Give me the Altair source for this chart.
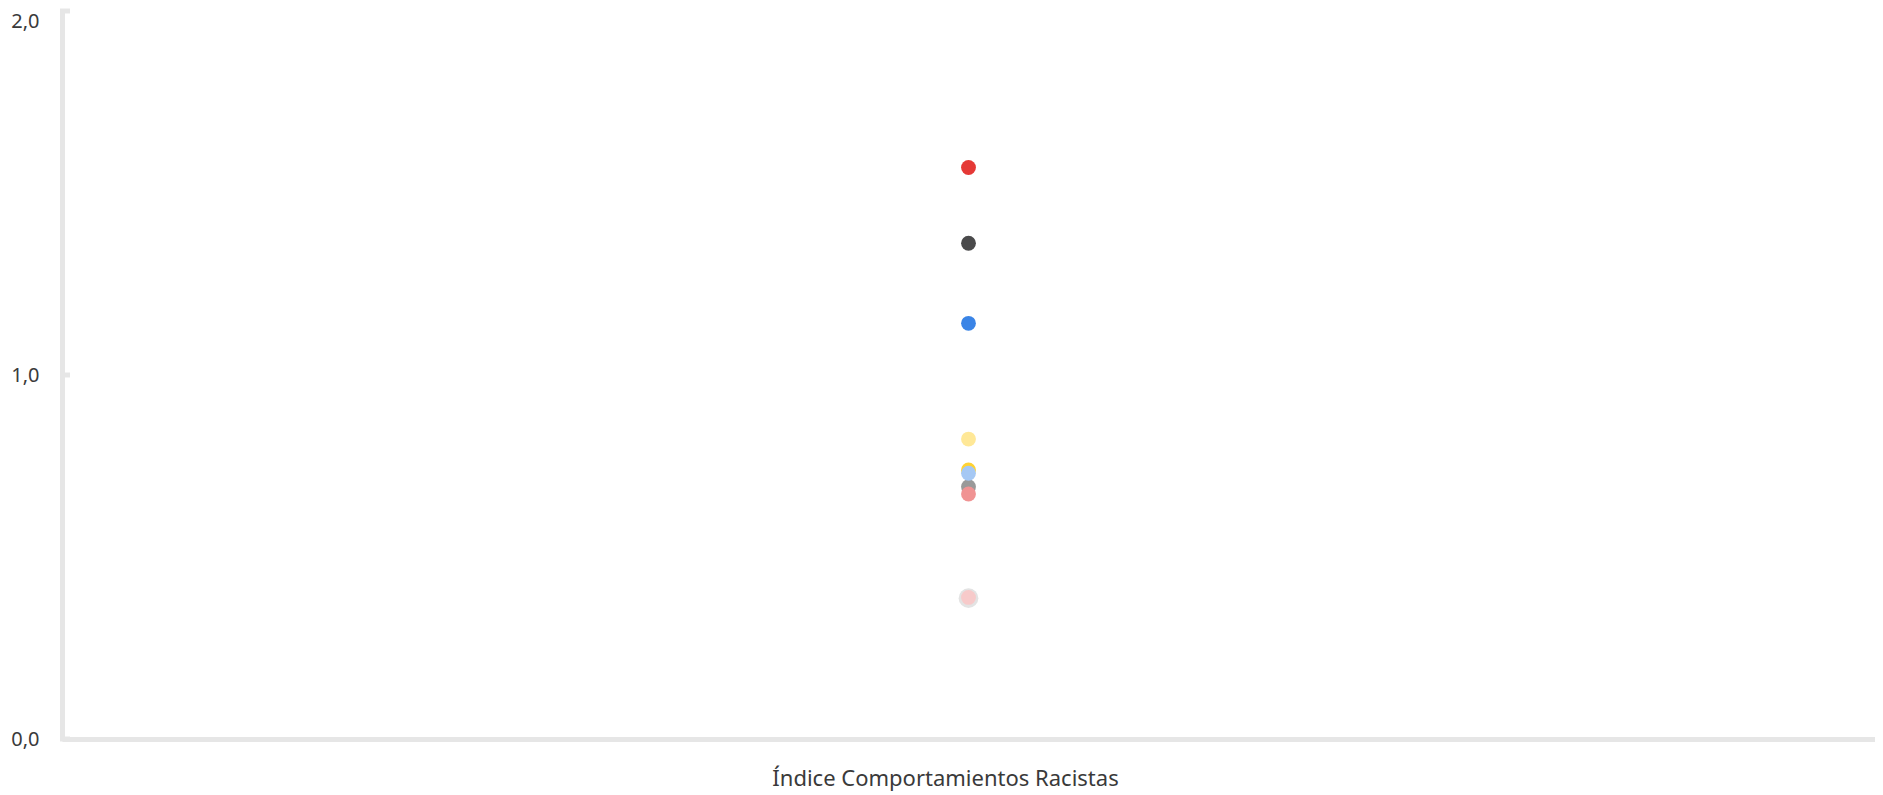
import altair as alt
import pandas as pd

# Series (drawn in this order; later ones on top)
groups = ["g1", "g2", "g3", "g4", "g5", "g6", "g7", "g8", "g9", "g10"]
values = [0.387, 0.389, 0.693, 0.739, 0.730, 0.673, 0.824, 1.142, 1.362, 1.570]
colors = ["#e3e3e3", "#f7caca", "#999999", "#ffd232", "#a5c8f4", "#f09393",
          "#ffe897", "#3a84e6", "#4a4a4b", "#e53936"]
sizes = [390, 220, 220, 220, 220, 220, 220, 220, 220, 220]
category = "Índice Comportamientos Racistas"
tick_values = [0.0, 1.0, 2.0]

df = pd.DataFrame({
    "grupo": groups,
    "valor": values,
    "color": colors,
    "size": sizes,
    "indice": [category] * len(groups),
    "orden": list(range(len(groups))),
})
ticks_df = pd.DataFrame({"t": tick_values})

FONT = "Noto Sans"
AXIS_COLOR = "#e6e6e6"
TEXT_COLOR = "#3a3a3a"

label_expr = "replace(format(datum.value, '.1f'), '.', ',')"

yscale = alt.Scale(domain=[0, 2], nice=False, zero=True)

points = alt.Chart(df).mark_circle(opacity=1).encode(
    x=alt.X("indice:N", scale=alt.Scale(type="point", padding=0.5),
            axis=alt.Axis(title=category, labels=False, ticks=False,
                          domain=True, domainColor=AXIS_COLOR, domainWidth=5,
                          titleFont=FONT, titleFontSize=22, titleFontWeight="normal",
                          titleColor=TEXT_COLOR, titleX=883, titleY=46,
                          titleBaseline="alphabetic", titleAlign="center")),
    y=alt.Y("valor:Q", scale=yscale,
            axis=alt.Axis(title=None, values=tick_values, labelExpr=label_expr,
                          grid=False, ticks=False, domain=True,
                          domainColor=AXIS_COLOR, domainWidth=5,
                          labelFont=FONT, labelFontSize=20, labelColor=TEXT_COLOR,
                          labelPadding=23, labelBaseline="middle",
                          labelOffset=alt.condition("datum.value == 2",
                                                    alt.value(10), alt.value(0)))),
    color=alt.Color("color:N", scale=None, legend=None),
    size=alt.Size("size:Q", scale=None, legend=None),
    order=alt.Order("orden:Q"),
)

tick_marks = alt.Chart(ticks_df).mark_rule(color=AXIS_COLOR, strokeWidth=5).encode(
    y=alt.Y("t:Q", scale=yscale),
    x=alt.value(-2),
    x2=alt.value(8),
)

chart = alt.layer(tick_marks, points).properties(
    width=1813,
    height=728,
    padding={"left": 54, "top": 3, "right": 0, "bottom": 52},
    autosize=alt.AutoSizeParams(type="none"),
    background="white",
).configure_view(stroke=None, strokeWidth=0)

chart.save("out.html", embed_options={"renderer": "svg", "actions": False})
